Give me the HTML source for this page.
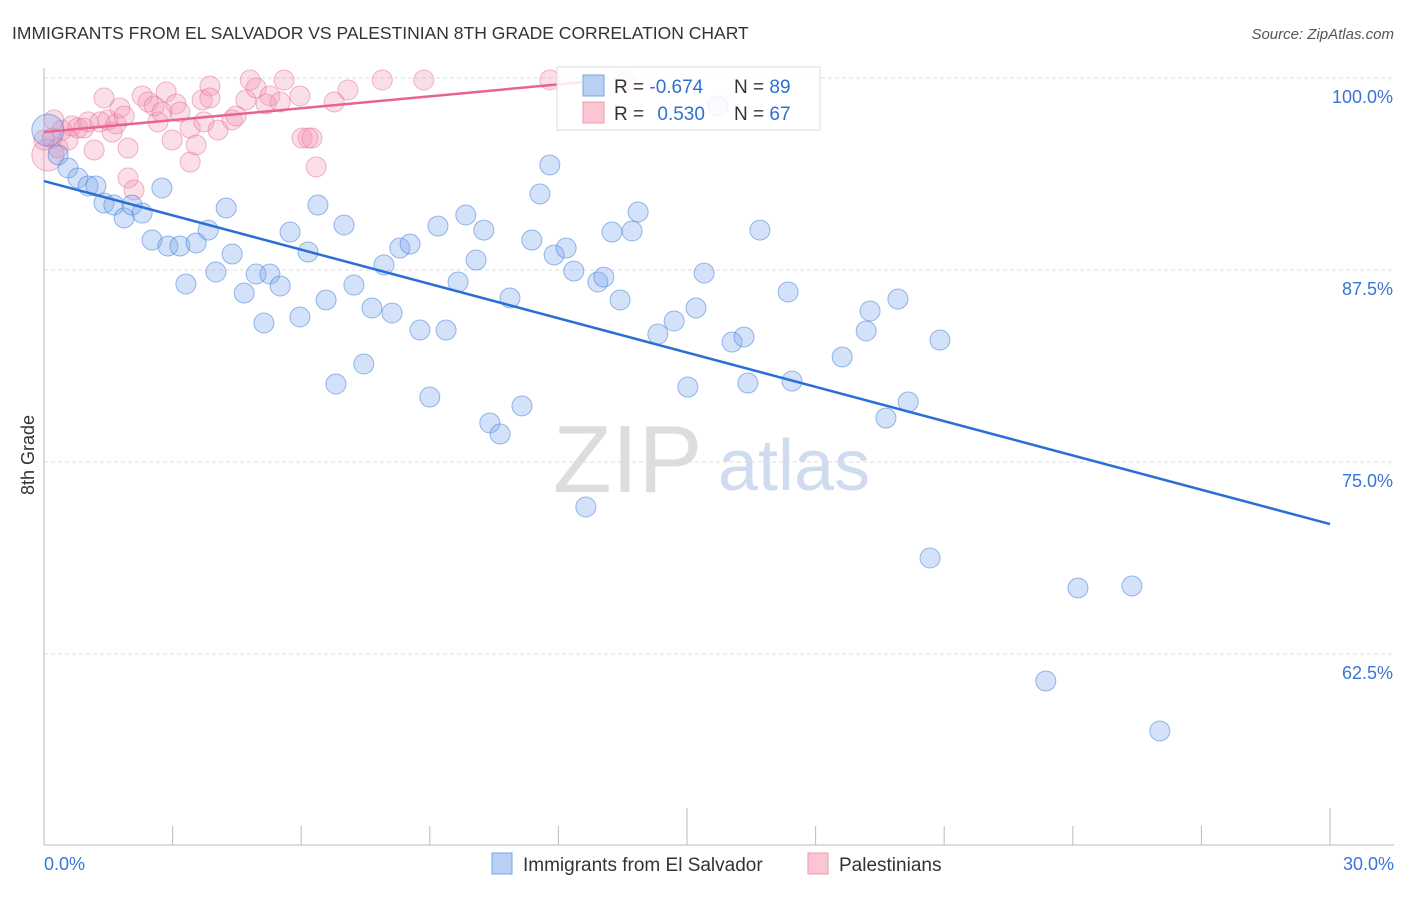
<!DOCTYPE html>
<html><head><meta charset="utf-8"><style>
body{margin:0;background:#fff;font-family:"Liberation Sans",sans-serif}
svg text{font-family:"Liberation Sans",sans-serif}
</style></head><body>
<svg id="chart" width="1406" height="892" xmlns="http://www.w3.org/2000/svg">
<text x="12" y="39" font-size="17.5" fill="#333">IMMIGRANTS FROM EL SALVADOR VS PALESTINIAN 8TH GRADE CORRELATION CHART</text>
<text x="1394" y="39" font-size="15" fill="#555" text-anchor="end" font-style="italic">Source: ZipAtlas.com</text>
<g>
<text x="553" y="492" font-size="96" fill="#ddd" font-family="Liberation Serif,serif">ZIP</text>
<text x="718" y="490" font-size="72" fill="#cfdcf0">atlas</text>
</g>
<g id="grid"></g>
<g id="axes"></g>
<g id="pts"></g>
<g id="lines"></g>
<text transform="translate(34,455) rotate(-90)" font-size="18" fill="#333" text-anchor="middle">8th Grade</text>
<g>
<rect x="557" y="67" width="263" height="63" fill="#fff" fill-opacity="0.85" stroke="#ddd"/>
<rect x="583" y="75" width="21" height="21" fill="#b8d0f4" stroke="#7aa5e3"/>
<rect x="583" y="102" width="21" height="21" fill="#fac6d4" stroke="#ec9ab2"/>
<text x="614" y="93" font-size="19" fill="#333">R = <tspan fill="#2e6fd4">-0.674</tspan></text>
<text x="734" y="93" font-size="19" fill="#333">N = <tspan fill="#2e6fd4">89</tspan></text>
<text x="614" y="120" font-size="19" fill="#333">R = <tspan fill="#2e6fd4" dx="8">0.530</tspan></text>
<text x="734" y="120" font-size="19" fill="#333">N = <tspan fill="#2e6fd4">67</tspan></text>
</g>
<g>
<rect x="492" y="853" width="20" height="21" fill="#b8d0f4" stroke="#7aa5e3"/>
<text x="523" y="871" font-size="19" fill="#333">Immigrants from El Salvador</text>
<rect x="808" y="853" width="20" height="21" fill="#fac6d4" stroke="#ec9ab2"/>
<text x="839" y="871" font-size="19" fill="#333">Palestinians</text>
</g>
</svg>
<script>
const yTicks=[100,87.5,75,62.5];
const yTickLabels=["100.0%","87.5%","75.0%","62.5%"];
const xTickLabels=["0.0%","30.0%"];
const blueX=[0.09,0.33,0.56,0.79,1.03,1.21,1.40,1.63,1.87,2.05,2.29,2.52,2.75,2.89,3.17,3.31,3.55,3.83,4.01,4.25,4.39,4.67,4.95,5.13,5.27,5.51,5.74,5.97,6.16,6.39,6.58,6.81,7.00,7.23,7.46,7.65,7.93,8.12,8.30,8.54,8.77,9.00,9.19,9.38,9.66,9.84,10.08,10.26,10.40,10.64,10.87,11.15,11.38,11.57,11.80,11.90,12.18,12.36,12.64,12.92,13.06,13.25,13.44,13.72,13.86,14.32,14.70,15.02,15.21,15.40,15.72,16.05,16.33,16.42,16.70,17.36,17.45,18.62,19.18,19.27,19.64,19.92,20.16,20.67,20.90,23.37,24.12,25.38,26.03];
const blueY=[96.61,94.99,94.14,93.49,92.97,92.97,91.86,91.73,90.89,91.73,91.21,89.45,92.84,89.06,89.06,86.59,89.26,90.10,87.37,91.54,88.54,86.00,87.24,84.05,87.24,86.46,89.97,84.44,88.67,91.73,85.55,80.08,90.43,86.52,81.38,85.03,87.83,84.70,88.93,89.19,83.59,79.23,90.36,83.59,86.72,91.08,88.15,90.10,77.54,76.82,85.68,78.65,89.45,92.45,94.34,88.48,88.93,87.43,72.07,86.72,87.04,89.97,85.55,90.04,91.28,83.33,84.18,79.88,85.03,87.30,98.18,82.81,83.14,80.14,90.10,86.07,80.27,81.84,83.53,84.83,77.86,85.61,78.91,68.75,82.94,60.74,66.80,66.93,57.49];
const pinkX=[0.09,0.19,0.33,0.42,0.56,0.65,0.79,0.93,1.03,1.17,1.31,1.40,1.49,1.59,1.68,1.77,1.87,1.96,1.96,2.10,2.29,2.43,2.57,2.66,2.75,2.85,2.99,3.08,3.17,3.41,3.41,3.55,3.69,3.73,3.87,3.87,4.06,4.39,4.48,4.71,4.81,4.95,5.18,5.27,5.51,5.60,5.97,6.02,6.16,6.25,6.35,6.77,7.09,7.89,8.86,11.80,13.58,0,0.23];
const pinkY=[94.99,96.09,95.44,96.61,95.96,96.88,96.74,96.74,97.14,95.31,97.14,98.70,97.27,96.48,97.01,98.05,97.53,95.44,93.49,92.71,98.83,98.44,98.18,97.14,97.79,99.09,95.96,98.31,97.79,94.53,96.74,95.64,98.57,97.14,99.48,98.70,96.61,97.27,97.53,98.57,99.87,99.35,98.31,98.83,98.44,99.87,98.83,96.09,96.09,96.09,94.21,98.44,99.22,99.87,99.87,99.87,99.74,95.96,97.27];
const blueTrend=[[0,93.29],[30,70.96]];
const pinkTrend=[[0,96.48],[12.6,99.74]];
const NS="http://www.w3.org/2000/svg";
const X0=44,X1=1330;
function sx(v){return X0+(v/30)*(X1-X0);}
function sy(v){return 78+(100-v)/12.5*192;}
function mk(t,a,p){const e=document.createElementNS(NS,t);for(const k in a)e.setAttribute(k,a[k]);p.appendChild(e);return e;}
const grid=document.getElementById('grid'),axes=document.getElementById('axes'),pts=document.getElementById('pts'),lines=document.getElementById('lines');
yTicks.forEach((t,i)=>{
 const l=mk('line',{x1:X0,x2:1394,y1:sy(t),y2:sy(t),stroke:'#ddd','stroke-dasharray':'4,3'},grid);
 
 
 const tx=mk('text',{x:1393,y:sy(t)+25,'font-size':18,fill:'#3a74d6','text-anchor':'end'},axes);
 tx.textContent=yTickLabels[i];
 
 
});
const ax=mk('line',{x1:X0,x2:1394,y1:845,y2:845,stroke:'#bbb'},axes);


const ay=mk('line',{x1:X0,x2:X0,y1:68,y2:845,stroke:'#bbb'},axes);


for(let i=0;i<=10;i++){
 const v=i*3,major=(i==5||i==10);
 const t=mk('line',{x1:sx(v),x2:sx(v),y1:major?808:826,y2:845,stroke:'#bbb'},axes);
 
 
}
[[0,'start',44],[30,'end',1394]].forEach((d,i)=>{
 const tx=mk('text',{x:d[2],y:870,'font-size':18,fill:'#3a74d6','text-anchor':d[1]},axes);
 tx.textContent=xTickLabels[i];
 
 
});
function dots(X,Y,fill,stroke,name){
 X.forEach((x,i)=>{
  const r=(i==0)?16:10;
  const c=mk('circle',{cx:sx(x),cy:sy(Y[i]),r:r,fill:fill,stroke:stroke,'stroke-width':1},pts);
  
  
 });
}
dots(pinkX,pinkY,'rgba(242,150,178,0.3)','rgba(232,120,155,0.55)','pink-point');
dots(blueX,blueY,'rgba(120,165,235,0.32)','rgba(70,130,220,0.55)','blue-point');
const bl=mk('line',{x1:sx(blueTrend[0][0]),y1:sy(blueTrend[0][1]),x2:sx(blueTrend[1][0]),y2:sy(blueTrend[1][1]),stroke:'#2a6fd6','stroke-width':2.5},lines);


const pl=mk('line',{x1:sx(pinkTrend[0][0]),y1:sy(pinkTrend[0][1]),x2:sx(pinkTrend[1][0]),y2:sy(pinkTrend[1][1]),stroke:'#e8638e','stroke-width':2.5},lines);


</script>
</body></html>
